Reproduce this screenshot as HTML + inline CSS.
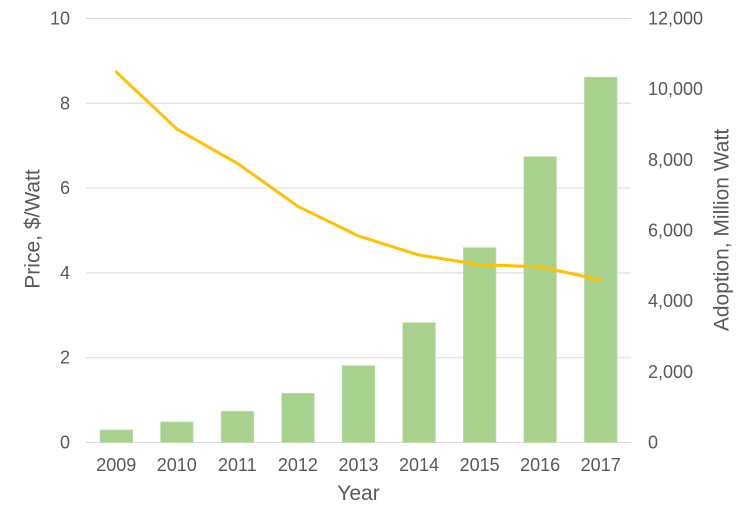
<!DOCTYPE html>
<html>
<head>
<meta charset="utf-8">
<style>
  html, body { margin:0; padding:0; background:#ffffff; }
  body { width:754px; height:524px; overflow:hidden; }
  svg { display:block; }
  text { font-family: "Liberation Sans", Arial, sans-serif; fill:#595959; }
</style>
</head>
<body>
<svg width="754" height="524" viewBox="0 0 754 524" xmlns="http://www.w3.org/2000/svg">
  <!-- gridlines -->
  <g stroke="#d9d9d9" stroke-width="1">
    <line x1="86" x2="631" y1="18.5" y2="18.5"/>
    <line x1="86" x2="631" y1="103.3" y2="103.3"/>
    <line x1="86" x2="631" y1="188.1" y2="188.1"/>
    <line x1="86" x2="631" y1="272.9" y2="272.9"/>
    <line x1="86" x2="631" y1="357.7" y2="357.7"/>
    <line x1="86" x2="631" y1="442.5" y2="442.5"/>
  </g>

  <!-- bars -->
  <g fill="#a9d18e" stroke="#bfdcab" stroke-width="0.8">
    <rect x="100.1" y="430" width="32.5" height="12.5"/>
    <rect x="160.6" y="422" width="32.5" height="20.5"/>
    <rect x="221.2" y="411.3" width="32.5" height="31.2"/>
    <rect x="281.7" y="393.3" width="32.5" height="49.2"/>
    <rect x="342.3" y="365.7" width="32.5" height="76.8"/>
    <rect x="402.8" y="322.7" width="32.5" height="119.8"/>
    <rect x="463.4" y="247.7" width="32.5" height="194.8"/>
    <rect x="523.9" y="156.7" width="32.5" height="285.8"/>
    <rect x="584.5" y="77.3" width="32.5" height="365.2"/>
  </g>

  <!-- price line -->
  <polyline fill="none" stroke="#ffc000" stroke-width="3" stroke-linejoin="round" stroke-linecap="round"
    points="116.3,72 176.8,129 237.4,163.3 297.8,206.3 358.5,236 419,255 479.6,264.7 540.2,266.7 600.7,280"/>

  <!-- left axis labels -->
  <g font-size="18" text-anchor="end">
    <text x="70" y="24.5">10</text>
    <text x="70" y="109.3">8</text>
    <text x="70" y="194.1">6</text>
    <text x="70" y="278.9">4</text>
    <text x="70" y="363.7">2</text>
    <text x="70" y="448.5">0</text>
  </g>

  <!-- right axis labels (0..12,000 over 424px, 7 ticks) -->
  <g font-size="18" text-anchor="start">
    <text x="648" y="24.5">12,000</text>
    <text x="648" y="95.2">10,000</text>
    <text x="648" y="165.8">8,000</text>
    <text x="648" y="236.5">6,000</text>
    <text x="648" y="307.2">4,000</text>
    <text x="648" y="377.8">2,000</text>
    <text x="648" y="448.5">0</text>
  </g>

  <!-- x axis labels -->
  <g font-size="18" text-anchor="middle">
    <text x="116.3" y="471">2009</text>
    <text x="176.8" y="471">2010</text>
    <text x="237.4" y="471">2011</text>
    <text x="297.9" y="471">2012</text>
    <text x="358.5" y="471">2013</text>
    <text x="419" y="471">2014</text>
    <text x="479.6" y="471">2015</text>
    <text x="540.1" y="471">2016</text>
    <text x="600.7" y="471">2017</text>
  </g>

  <!-- axis titles -->
  <text x="358.5" y="500" font-size="21" text-anchor="middle">Year</text>
  <text transform="translate(39.5,229) rotate(-90)" font-size="21" text-anchor="middle">Price, $/Watt</text>
  <text transform="translate(728.5,230) rotate(-90)" font-size="21" text-anchor="middle">Adoption, Million Watt</text>
</svg>
</body>
</html>
